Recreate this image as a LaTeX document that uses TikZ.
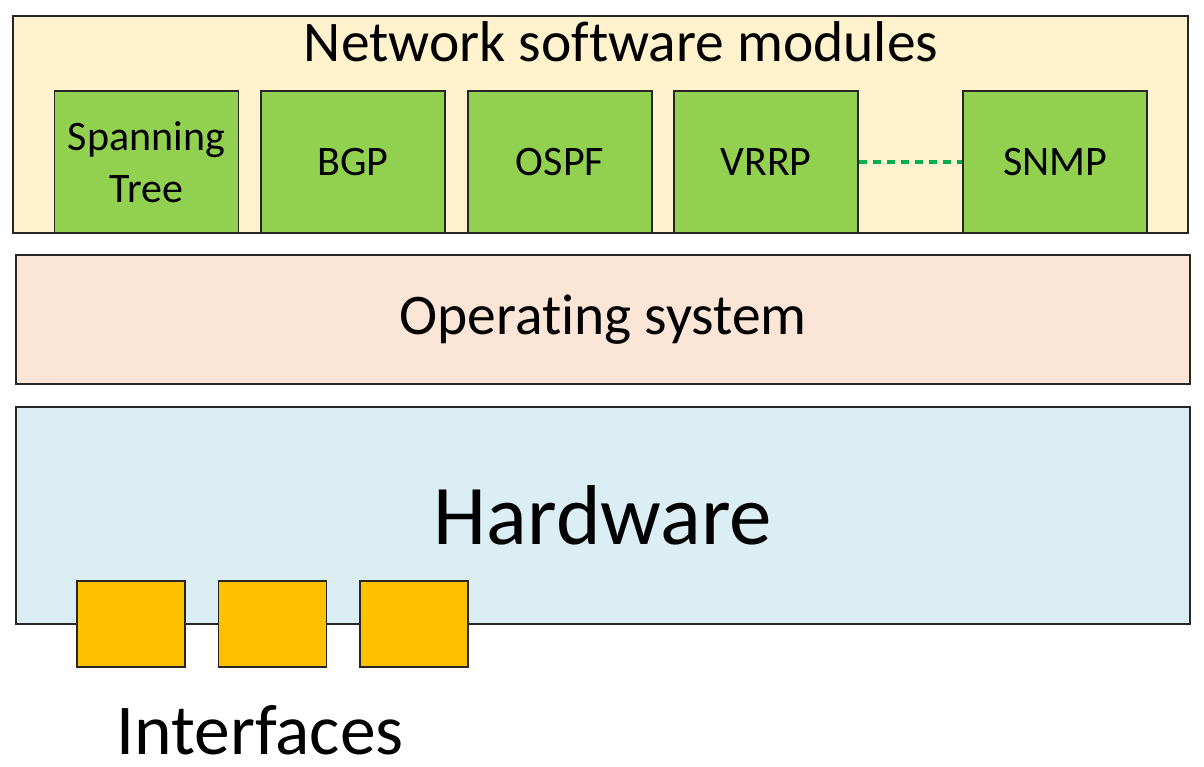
\documentclass[tikz,border=0pt]{standalone}
\usepackage{fontspec}
\setmainfont[RawFeature={-liga;-clig;-dlig}]{Carlito}
\usetikzlibrary{positioning}

\definecolor{modfill}{HTML}{FFF2CC}
\definecolor{protofill}{HTML}{92D050}
\definecolor{osfill}{HTML}{FBE5D6}
\definecolor{hwfill}{HTML}{DAEEF3}
\definecolor{iffill}{HTML}{FFC000}
\definecolor{linkgreen}{HTML}{00B050}

\begin{document}
\begin{tikzpicture}
  [
    x=1pt, y=-1pt,
    layer/.style = {draw=black!85, line width=1.4pt, rectangle, inner sep=0pt},
    proto/.style = {draw=black!85, line width=1.4pt, rectangle, fill=protofill, inner sep=0pt,
                    minimum width=184pt, minimum height=142pt, align=center,
                    font=\fontsize{42}{52}\selectfont},
    iface/.style = {draw=black!85, line width=1.4pt, rectangle, fill=iffill, inner sep=0pt,
                    minimum width=108pt, minimum height=86pt},
  ]

  \useasboundingbox (0,0) rectangle (1204,767);

  % the layers
  \node (modules) at (600.5,124.5) [layer, fill=modfill, minimum width=1175pt, minimum height=217pt] {};
  \node (os) at (603,319.5) [layer, fill=osfill, minimum width=1174pt, minimum height=129pt,
        font=\fontsize{57.5}{69}\selectfont] {Operat\kern0pt ing system};
  \node (hw) at (603,515.5) [layer, fill=hwfill, minimum width=1174pt, minimum height=217pt,
        font=\fontsize{85}{100}\selectfont] {Hardware};

  \node (title) at (621,42) [font=\fontsize{57.5}{69}\selectfont] {Network sof\kern0pt tware modules};

  % protocol modules
  \node (stp)  at (146.5,162) [proto] {Spanning\\Tree};
  \node (bgp)  at (353,162)   [proto] {BGP};
  \node (ospf) at (560,162)   [proto] {OSPF};
  \node (vrrp) at (766,162)   [proto] {VRRP};
  \node (snmp) at (1055,162)  [proto] {SNMP};

  \draw[linkgreen, line width=3.5pt, dash pattern=on 8pt off 6pt] (vrrp) -- (snmp);

  % interfaces
  \def\ifstep{141.5}
  \foreach \i in {0,1,2}
    \node (if\i) at (131+\i*\ifstep,624) [iface] {};

  \node (iflabel) at (260,730) [inner sep=0pt, font=\fontsize{71.5}{86}\selectfont] {Interfaces};
\end{tikzpicture}
\end{document}
